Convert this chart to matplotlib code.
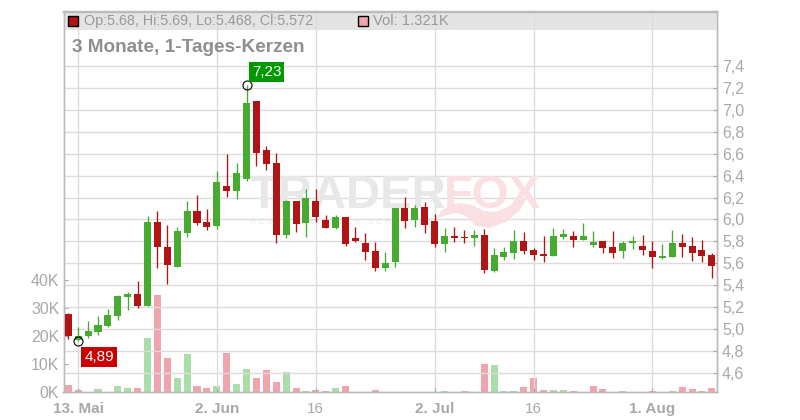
import matplotlib
matplotlib.use("Agg")
import matplotlib.pyplot as plt
from matplotlib.patches import Polygon, Rectangle

plt.rcParams['font.family'] = ['Liberation Sans', 'DejaVu Sans']

# daily candles
opens = [5.138, 4.904, 4.94, 4.974, 5.029, 5.12, 5.293, 5.32, 5.211, 5.977, 5.749, 5.567, 5.877, 6.077, 5.977, 5.941,
         6.306, 6.26, 6.369, 7.08, 6.634, 6.515, 5.859, 6.169, 5.968, 6.169, 5.995, 5.922, 6.023, 5.831, 5.786, 5.713,
         5.558, 5.612, 6.105, 5.995, 6.114, 5.986, 5.777, 5.849, 5.84, 5.831, 5.859, 5.53, 5.658, 5.694, 5.804, 5.722,
         5.685, 5.667, 5.84, 5.849, 5.813, 5.767, 5.804, 5.749, 5.713, 5.786, 5.758, 5.713, 5.649, 5.658, 5.786, 5.758,
         5.722, 5.68]
closes = [4.94, 4.94, 4.983, 5.038, 5.129, 5.302, 5.32, 5.21, 5.977, 5.749, 5.585, 5.895, 6.077, 5.968, 5.932, 6.342,
          6.26, 6.424, 7.06, 6.606, 6.506, 5.859, 6.169, 5.959, 6.196, 6.023, 5.922, 6.023, 5.777, 5.804, 5.704, 5.558,
          5.603, 6.105, 5.986, 6.105, 5.95, 5.777, 5.849, 5.831, 5.831, 5.859, 5.539, 5.676, 5.704, 5.804, 5.713, 5.676,
          5.667, 5.849, 5.868, 5.813, 5.849, 5.795, 5.74, 5.694, 5.786, 5.804, 5.722, 5.658, 5.667, 5.786, 5.749, 5.694,
          5.667, 5.572]
highs = [5.145, 5.02, 5.074, 5.12, 5.184, 5.31, 5.339, 5.439, 6.032, 6.077, 5.95, 5.932, 6.169, 6.223, 6.096, 6.442,
         6.597, 6.515, 7.23, 7.08, 6.67, 6.606, 6.178, 6.169, 6.278, 6.278, 6.041, 6.041, 6.023, 5.932, 5.877, 5.795,
         5.704, 6.105, 6.205, 6.132, 6.16, 6.05, 5.922, 5.932, 5.904, 5.904, 5.913, 5.74, 5.749, 5.904, 5.886, 5.74,
         5.849, 5.922, 5.913, 5.895, 5.968, 5.895, 5.804, 5.895, 5.804, 5.849, 5.859, 5.804, 5.777, 5.904, 5.868, 5.84,
         5.813, 5.69]
lows = [4.907, 4.89, 4.92, 4.946, 5.02, 5.083, 5.175, 5.193, 5.211, 5.558, 5.412, 5.567, 5.84, 5.95, 5.904, 5.913,
        6.205, 6.187, 6.351, 6.488, 6.451, 5.786, 5.831, 5.886, 5.84, 5.977, 5.922, 5.913, 5.758, 5.795, 5.631, 5.53,
        5.53, 5.567, 5.922, 5.932, 5.877, 5.749, 5.704, 5.795, 5.786, 5.758, 5.512, 5.521, 5.631, 5.64, 5.685, 5.631,
        5.612, 5.667, 5.822, 5.749, 5.813, 5.749, 5.694, 5.649, 5.649, 5.731, 5.676, 5.558, 5.64, 5.658, 5.658, 5.622,
        5.612, 5.468]

# volume in thousands, colour does not always follow the candle
volumes = [2.6, 0.8, 0, 1.2, 0, 2.3, 1.5, 1.5, 19.4, 34.8, 12.3, 5.1, 13.7, 2.3, 1.5, 2.3,
           14.0, 3.0, 8.3, 5.1, 8.0, 3.7, 7.0, 1.5, 0.5, 0.8, 0.5, 1.5, 2.3, 0, 0, 0.8,
           0, 0, 0, 0, 0, 0, 0.5, 0, 0.5, 0, 10.1, 9.8, 0.5, 0.5, 1.9, 5.1,
           0.8, 0.8, 0.8, 0.5, 0, 2.3, 1.2, 0, 0.5, 0, 0, 0.5, 0, 0.5, 1.9, 1.2,
           0.5, 1.6]
volume_up = [0, 0, 0, 1, 0, 1, 1, 0, 1, 0, 0, 1, 1, 0, 0, 1,
             0, 1, 1, 0, 0, 0, 1, 0, 1, 0, 0, 1, 0, 0, 0, 0,
             0, 0, 0, 0, 0, 0, 1, 0, 0, 0, 0, 1, 1, 1, 0, 0,
             0, 1, 1, 0, 0, 0, 0, 0, 1, 0, 0, 0, 0, 1, 0, 0,
             0, 0]

price_ticks = [4.6, 4.8, 5.0, 5.2, 5.4, 5.6, 5.8, 6.0, 6.2, 6.4, 6.6, 6.8, 7.0, 7.2, 7.4]
price_labels = ['4,6', '4,8', '5,0', '5,2', '5,4', '5,6', '5,8', '6,0', '6,2', '6,4', '6,6', '6,8', '7,0', '7,2', '7,4']
volume_ticks = [0, 10, 20, 30, 40]
volume_labels = ['0K', '10K', '20K', '30K', '40K']
date_ticks = [1, 15, 25, 37, 47, 59]
date_labels = ['13. Mai', '2. Jun', '16', '2. Jul', '16', '1. Aug']
date_bold = [True, True, False, True, False, True]

high_idx = 18
low_idx = 1

GREEN = '#46ab30'
RED = '#b01414'
VOL_GREEN = '#aadda8'
VOL_RED = '#f0a5ae'
GREY = '#a8a8a8'
TEXT_GREY = '#999999'
W, H = 800, 420


def px(x, y):
    """Figure fraction for a pixel position measured from the top left."""
    return x / W, 1 - y / H


def setup_axes(fig):
    left, right, top, bottom = 63.5, 716.5, 11.5, 392.0
    ax = fig.add_axes([left / W, 1 - bottom / H, (right - left) / W, (bottom - top) / H])
    vol = ax.twinx()

    ax.set_xlim(-0.485, 65.47)
    ax.set_ylim(4.4266, 7.897)
    ax.set_yticks(price_ticks)
    ax.set_yticklabels(price_labels)
    ax.set_xticks(date_ticks)
    ax.set_xticklabels(date_labels)
    for label, bold in zip(ax.get_xticklabels(), date_bold):
        label.set_fontweight('bold' if bold else 'normal')
    ax.tick_params(axis='x', direction='in', length=3, color=GREY, labelcolor=GREY, labelsize=11, pad=7)
    ax.grid(True, color='#dcdcdc', linewidth=1.0, zorder=1)
    ax.set_axisbelow(True)

    vol.set_ylim(0, 135.9)
    vol.set_yticks(volume_ticks)
    vol.set_yticklabels(volume_labels)

    # twinx leaves the price axis on the left, swap them over
    ax.yaxis.tick_right()
    vol.yaxis.tick_left()
    ax.tick_params(axis='y', direction='in', length=3, color=GREY, labelcolor=GREY, labelsize=11.5, pad=4)
    vol.tick_params(axis='y', direction='in', length=3, color=GREY, labelcolor=GREY, labelsize=11.5, pad=3)
    for a in (ax, vol):
        for spine in a.spines.values():
            spine.set_color('#bbbbbb')
            spine.set_linewidth(1.0)
    return ax, vol


def draw_watermark(ax, fig):
    ax.text(*px(249, 196), 'TRADER', transform=fig.transFigure, fontsize=34, fontweight='bold',
            color='#e8e8e8', va='center', ha='left', zorder=0.6)
    ax.text(*px(444, 196), 'FOX', transform=fig.transFigure, fontsize=34, fontweight='bold',
            color='#fbe0e3', va='center', ha='left', zorder=0.6)
    ax.text(*px(250, 221), 'R E A L - T I M E   S T O C K   S C R E E N E R', transform=fig.transFigure,
            fontsize=6.3, color='#ececec', va='center', ha='left', zorder=0.6)
    tail = [(437, 219), (441, 211), (449, 206), (459, 203), (472, 205), (484, 211), (496, 212),
            (512, 205), (528, 196), (520, 210), (506, 222), (490, 228), (476, 226), (466, 216),
            (456, 213), (446, 215)]
    ax.add_patch(Polygon([px(x, y) for x, y in tail], closed=True, transform=fig.transFigure,
                         facecolor='#fbe0e3', edgecolor='none', zorder=0.6))


def draw_header(ax, fig):
    ax.add_patch(Rectangle((0, 1 - 18.5 / 380.5), 1, 18.5 / 380.5, transform=ax.transAxes,
                           facecolor='#e4e4e4', edgecolor='none', zorder=0.5))
    fig.patches.append(Rectangle(px(68, 26), 10 / W, 10 / H, transform=fig.transFigure,
                                 facecolor=RED, edgecolor='black', linewidth=1.0))
    fig.patches.append(Rectangle(px(357.5, 26), 10 / W, 10 / H, transform=fig.transFigure,
                                 facecolor=VOL_RED, edgecolor='black', linewidth=1.0))
    fig.text(*px(84, 21), 'Op:5.68, Hi:5.69, Lo:5.468, Cl:5.572', fontsize=10.4, color=TEXT_GREY, va='center')
    fig.text(*px(373, 21), 'Vol: 1.321K', fontsize=10.6, color=TEXT_GREY, va='center')
    fig.text(*px(72, 47), '3 Monate, 1-Tages-Kerzen', fontsize=13.7, fontweight='bold', color='#8f8f8f', va='center')


def draw_candles(ax):
    for i in range(len(opens)):
        color = GREEN if closes[i] >= opens[i] else RED
        ax.vlines(i, lows[i], highs[i], color=color, linewidth=0.95, zorder=3)
        ax.bar(i, abs(closes[i] - opens[i]), bottom=min(opens[i], closes[i]), width=0.71, color=color, zorder=3)


def draw_volume(vol):
    colors = [VOL_GREEN if up else VOL_RED for up in volume_up]
    vol.bar(range(len(volumes)), volumes, width=0.71, color=colors, zorder=2)


def draw_extremes(ax):
    ax.plot([high_idx, low_idx], [highs[high_idx], lows[low_idx]], linestyle='none', marker='o', markersize=6.5,
            markerfacecolor='none', markeredgecolor='black', markeredgewidth=0.8, zorder=6)
    ax.annotate(f"{highs[high_idx]:.2f}".replace('.', ','), (high_idx, highs[high_idx]), xytext=(20, 13),
                textcoords='offset pixels', ha='center', va='center', color='white', fontsize=11,
                bbox=dict(boxstyle='square,pad=0.2', facecolor='#009900', edgecolor='none'), zorder=7)
    ax.annotate(f"{lows[low_idx]:.2f}".replace('.', ','), (low_idx, lows[low_idx]), xytext=(21, -16),
                textcoords='offset pixels', ha='center', va='center', color='white', fontsize=11,
                bbox=dict(boxstyle='square,pad=0.2', facecolor='#cc0000', edgecolor='none'), zorder=7)


def main():
    fig = plt.figure(figsize=(8, 4.2), dpi=100, facecolor='white')
    ax, vol = setup_axes(fig)
    draw_header(ax, fig)
    draw_watermark(ax, fig)
    draw_volume(vol)
    # price axes on top so the grid and band stay behind the candles
    ax.set_zorder(vol.get_zorder() + 1)
    ax.patch.set_visible(False)
    vol.patch.set_visible(True)
    vol.patch.set_facecolor('white')
    draw_candles(ax)
    draw_extremes(ax)
    fig.savefig('out.png', dpi=100)


if __name__ == "__main__":
    main()
